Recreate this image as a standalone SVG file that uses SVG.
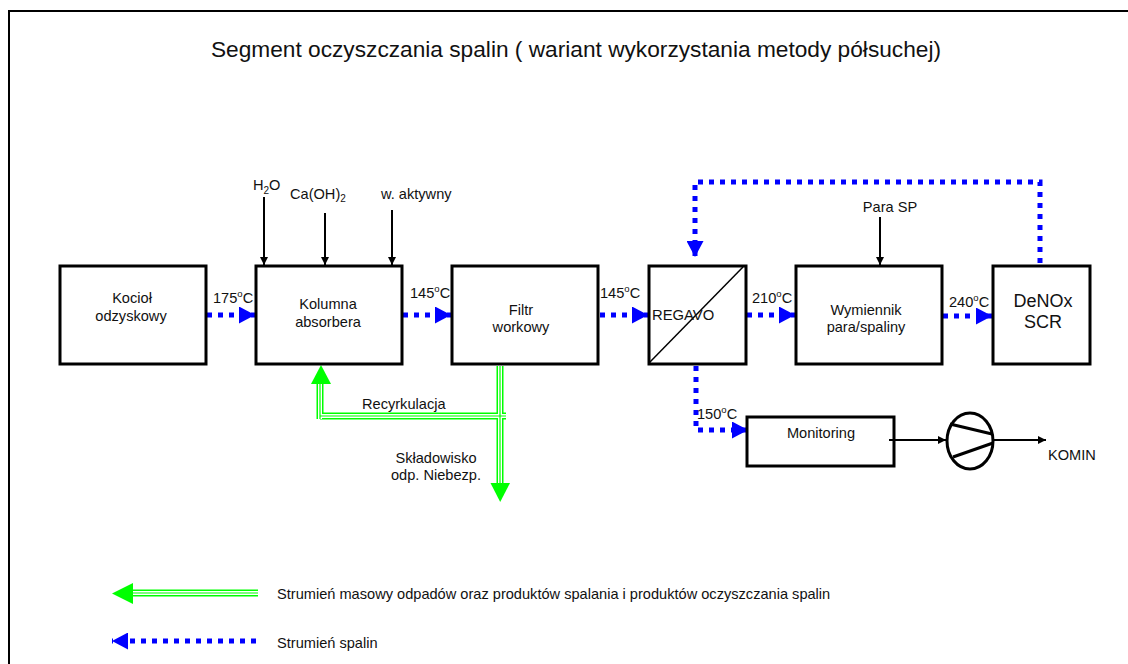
<svg xmlns="http://www.w3.org/2000/svg" width="1128" height="664" viewBox="0 0 1128 664">
<defs>
<style>
text{font-family:"Liberation Sans",Arial,sans-serif;font-size:14.6px;fill:#111}
.box{fill:#fff;stroke:#000;stroke-width:3}
.gas{fill:none;stroke:#0000ff;stroke-width:5;stroke-dasharray:5 6}
.blk{fill:none;stroke:#000;stroke-width:2}
.g1{fill:none;stroke:#00ff00;stroke-width:7}
.g2{fill:none;stroke:#ffffff;stroke-width:4}
.g3{fill:none;stroke:#00ff00;stroke-width:1.2}
.mid{text-anchor:middle}
</style>
<marker id="ab" markerUnits="userSpaceOnUse" viewBox="0 0 16 17" refX="16" refY="8.5" markerWidth="16" markerHeight="17" orient="auto"><path d="M0,0L16,8.5L0,17z" fill="#0000ff"/></marker>
<marker id="ak" markerUnits="userSpaceOnUse" viewBox="0 0 8 8" refX="8" refY="4" markerWidth="8" markerHeight="8" orient="auto"><path d="M0,0L8,4L0,8z" fill="#000"/></marker>
</defs>
<rect x="9" y="11" width="1130" height="670" fill="#fff" stroke="#000" stroke-width="2"/>
<text x="576" y="57" class="mid" style="font-size:22.7px">Segment oczyszczania spalin ( wariant wykorzystania metody półsuchej)</text>

<g id="connectors">
<path class="gas" d="M207,315H255" marker-end="url(#ab)"/>
<path class="gas" d="M403,315H451" marker-end="url(#ab)"/>
<path class="gas" d="M600,315H648" marker-end="url(#ab)"/>
<path class="gas" d="M747,315H795" marker-end="url(#ab)"/>
<path class="gas" d="M943,316H992" marker-end="url(#ab)"/>
<path class="gas" d="M1040,263V182H695V257" marker-end="url(#ab)"/>
<path class="gas" d="M696,366V430H748" marker-end="url(#ab)"/>
<path class="blk" d="M264,197V265" marker-end="url(#ak)"/>
<path class="blk" d="M325,213V265" marker-end="url(#ak)"/>
<path class="blk" d="M392,210V265" marker-end="url(#ak)"/>
<path class="blk" d="M880,217V265" marker-end="url(#ak)"/>
<path class="blk" d="M993,440H1046" marker-end="url(#ak)"/>
<g id="green">
<path class="g1" d="M500,366V484M320,419V384M320,416H506"/>
<path class="g2" d="M500,366V484M320,419V384M320,416H506"/>
<path class="g3" d="M500,366V484M320,419V384M320,416H506"/>
<path d="M490.5,483L510,483L500.2,502z" fill="#00ff00"/>
<path d="M311,384L331,384L321,365z" fill="#00ff00"/>
</g>
<text x="362" y="409">Recyrkulacja</text>
<text x="436" y="463" class="mid">Składowisko</text>
<text x="436" y="480" class="mid">odp. Niebezp.</text>
<text x="213" y="303">175<tspan dy="-6" style="font-size:9.5px">o</tspan><tspan dy="6">C</tspan></text>
<text x="410" y="298">145<tspan dy="-6" style="font-size:9.5px">o</tspan><tspan dy="6">C</tspan></text>
<text x="600" y="298">145<tspan dy="-6" style="font-size:9.5px">o</tspan><tspan dy="6">C</tspan></text>
<text x="752" y="303">210<tspan dy="-6" style="font-size:9.5px">o</tspan><tspan dy="6">C</tspan></text>
<text x="949" y="307">240<tspan dy="-6" style="font-size:9.5px">o</tspan><tspan dy="6">C</tspan></text>
<text x="697" y="419">150<tspan dy="-6" style="font-size:9.5px">o</tspan><tspan dy="6">C</tspan></text>
<text x="253" y="190">H<tspan dy="4" style="font-size:10px">2</tspan><tspan dy="-4">O</tspan></text>
<text x="290" y="199">Ca(OH)<tspan dy="3" style="font-size:10px">2</tspan></text>
<text x="381" y="199">w. aktywny</text>
<text x="890" y="212" class="mid">Para SP</text>
<text x="1048" y="460">KOMIN</text>
</g>

<g id="kociol"><rect class="box" x="60" y="266" width="146" height="98"/><text x="132" y="303" class="mid">Kocioł</text><text x="131" y="321" class="mid">odzyskowy</text></g>
<g id="kolumna"><rect class="box" x="256" y="266" width="146" height="98"/><text x="328" y="309" class="mid">Kolumna</text><text x="328" y="327" class="mid">absorbera</text></g>
<g id="filtr"><rect class="box" x="452" y="266" width="146" height="98"/><text x="521" y="315" class="mid">Filtr</text><text x="521" y="332" class="mid">workowy</text></g>
<g id="regavo"><rect class="box" x="649" y="266" width="97" height="98"/><line x1="649" y1="363" x2="743" y2="267" stroke="#000" stroke-width="1.5"/><text x="652" y="320" style="font-size:14.8px">REGAVO</text></g>
<g id="wymiennik"><rect class="box" x="796" y="266" width="146" height="98"/><text x="866" y="315" class="mid">Wymiennik</text><text x="866" y="332" class="mid">para/spaliny</text></g>
<g id="denox"><rect class="box" x="993" y="266" width="97" height="98"/><text x="1043" y="307" class="mid" style="font-size:18px">DeNOx</text><text x="1043" y="328" class="mid" style="font-size:18px">SCR</text></g>
<g id="monitoring"><rect class="box" x="747" y="417" width="147" height="49"/><text x="821" y="438" class="mid">Monitoring</text></g>
<g id="wentylator"><ellipse cx="970" cy="441" rx="23" ry="28" fill="#fff" stroke="#000" stroke-width="3"/><path d="M950,424L992,434M953,457L993,443" stroke="#000" stroke-width="3" fill="none"/></g>
<path class="blk" d="M889,440H946" marker-end="url(#ak)"/>

<g id="legend">
<path class="g1" d="M132,593H258"/><path class="g2" d="M132,593H258"/><path class="g3" d="M132,593H258"/>
<path d="M133,583L133,604L112,593.5z" fill="#00ff00"/>
<text x="277" y="599">Strumień masowy odpadów oraz produktów spalania i produktów oczyszczania spalin</text>
<path class="gas" d="M256,641H112" marker-end="url(#ab)"/>
<text x="277" y="648">Strumień spalin</text>
</g>
</svg>
